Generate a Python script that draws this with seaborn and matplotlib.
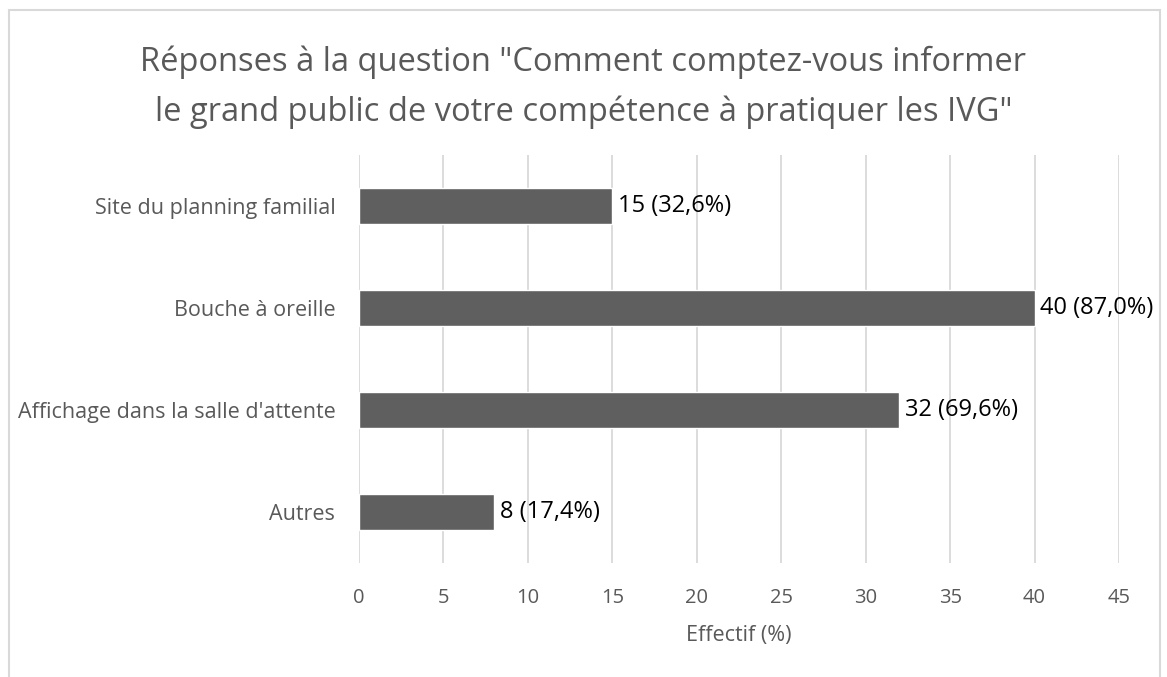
import matplotlib
matplotlib.use("Agg")
import matplotlib.pyplot as plt
import seaborn as sns
import pandas as pd
from matplotlib.patches import Rectangle

# data
categories = ["Site du planning familial", "Bouche à oreille",
              "Affichage dans la salle d'attente", "Autres"]
counts = [15, 40, 32, 8]
percents = ["32,6", "87,0", "69,6", "17,4"]
x_ticks = [0, 5, 10, 15, 20, 25, 30, 35, 40, 45]

title = ("Réponses à la question \"Comment comptez-vous informer\n"
         "le grand public de votre compétence à pratiquer les IVG\"")

sns.set_style("white")
plt.rcParams["font.family"] = ["Open Sans", "DejaVu Sans"]

GREY_TXT = "#595959"
BAR = "#5f5f5f"
GRID = "#d9d9d9"

df = pd.DataFrame({"categorie": categories, "effectif": counts})

fig = plt.figure(figsize=(11.67, 6.77), dpi=100)
ax = fig.add_axes([0.3076, 0.1684, 0.6513, 0.6026])

sns.barplot(data=df, x="effectif", y="categorie", orient="h", color=BAR,
            saturation=1, width=0.35, ax=ax)

ax.set_xlim(0, 45)
ax.set_xticks(x_ticks)
ax.xaxis.grid(True, color=GRID, lw=1.3)
ax.set_axisbelow(True)
for s in ax.spines.values():
    s.set_visible(False)
ax.tick_params(axis="x", length=0, colors=GREY_TXT, labelsize=14.5, pad=18)
ax.tick_params(axis="y", length=0, colors=GREY_TXT, labelsize=15.5, pad=17)
ax.set_ylabel("")
ax.set_xlabel("Effectif (%)", color=GREY_TXT, fontsize=15.5, labelpad=12)

labels = [f"{c} ({p}%)" for c, p in zip(counts, percents)]
ax.bar_label(ax.containers[0], labels=labels, padding=4, fontsize=17,
             color="black")

fig.suptitle(title, x=0.5, y=0.871, va="center", fontsize=23.5,
             color=GREY_TXT, linespacing=1.62)

# chart frame
fig.patches.append(Rectangle((8.5 / 1167, -0.05), 1151 / 1167, 1.05 - 9.5 / 677,
                             transform=fig.transFigure, fill=False,
                             edgecolor=GRID, lw=1.5))

fig.savefig("out.png", dpi=100)
